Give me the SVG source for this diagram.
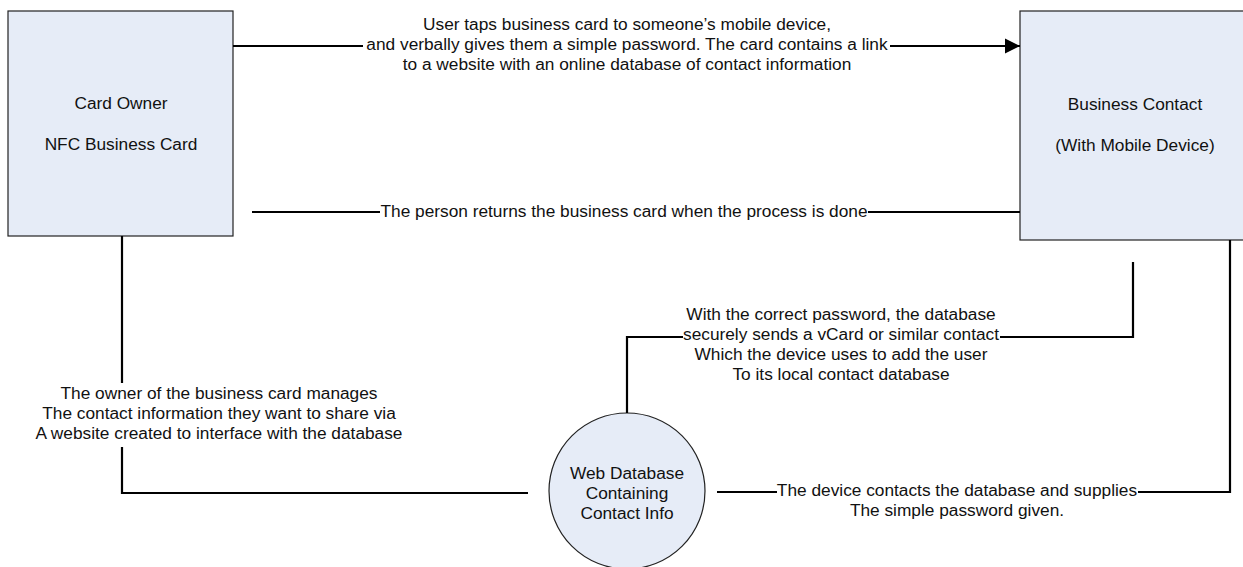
<svg xmlns="http://www.w3.org/2000/svg" width="1243" height="567" viewBox="0 0 1243 567">
<style>
.node{fill:#e6ecf7;stroke:#222;stroke-width:1.2}
.t{font-family:"Liberation Sans",Arial,sans-serif;font-size:17.3px;fill:#111;text-anchor:middle}
.c{fill:none;stroke:#000;stroke-width:2.2}
</style>
<defs>
<marker id="ah" markerWidth="16" markerHeight="16" refX="15" refY="8" orient="auto" markerUnits="userSpaceOnUse">
<path d="M0,0.5 L15,8 L0,15.5 Z" fill="#000"/>
</marker>
</defs>
<rect width="1243" height="567" fill="#fff"/>
<g id="card-owner">
<rect class="node" x="8" y="11" width="225" height="225"/>
<text class="t" x="121" y="109">Card Owner</text>
<text class="t" x="121" y="150">NFC Business Card</text>
</g>
<g id="business-contact">
<rect class="node" x="1020" y="11" width="232" height="229"/>
<text class="t" x="1135" y="110">Business Contact</text>
<text class="t" x="1135" y="151">(With Mobile Device)</text>
</g>
<g id="web-database">
<circle class="node" cx="627" cy="491" r="78"/>
<text class="t" x="627" y="479">Web Database</text>
<text class="t" x="627" y="499">Containing</text>
<text class="t" x="627" y="519">Contact Info</text>
</g>
<g id="connectors">
<path class="c" d="M233,46 H363"/>
<path class="c" d="M890,46 H1020" marker-end="url(#ah)"/>
<text class="t" x="627" y="30">User taps business card to someone’s mobile device,</text>
<text class="t" x="627" y="50">and verbally gives them a simple password. The card contains a link</text>
<text class="t" x="627" y="70">to a website with an online database of contact information</text>
<path class="c" d="M252,212 H380"/>
<path class="c" d="M868,212 H1020"/>
<text class="t" x="624" y="217">The person returns the business card when the process is done</text>
<path class="c" d="M122,236 V383"/>
<path class="c" d="M122,447 V493 H528"/>
<text class="t" x="219" y="399">The owner of the business card manages</text>
<text class="t" x="219" y="419">The contact information they want to share via</text>
<text class="t" x="219" y="439">A website created to interface with the database</text>
<path class="c" d="M627,413 V337 H683"/>
<path class="c" d="M1000,337 H1133 V262"/>
<text class="t" x="841" y="320">With the correct password, the database</text>
<text class="t" x="841" y="340">securely sends a vCard or similar contact</text>
<text class="t" x="841" y="360">Which the device uses to add the user</text>
<text class="t" x="841" y="380">To its local contact database</text>
<path class="c" d="M717,492 H777"/>
<path class="c" d="M1138,492 H1230 V240"/>
<text class="t" x="957" y="496">The device contacts the database and supplies</text>
<text class="t" x="957" y="516">The simple password given.</text>
</g>
</svg>
